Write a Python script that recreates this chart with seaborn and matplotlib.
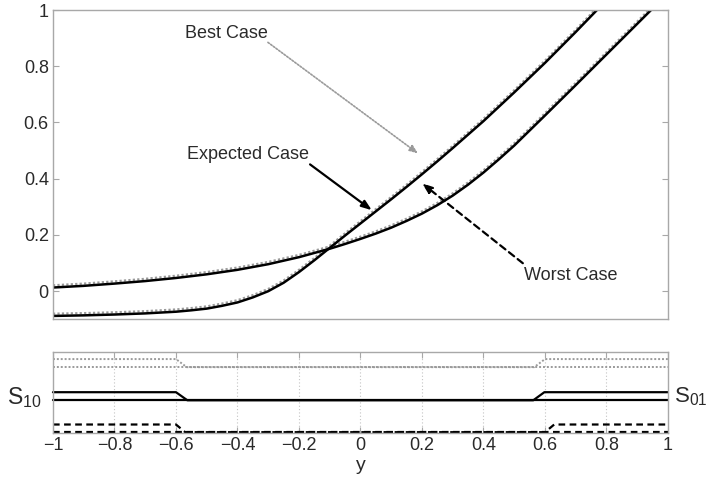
import numpy as np
import pandas as pd
import matplotlib
matplotlib.use("Agg")
import matplotlib.pyplot as plt
import seaborn as sns

# ---------------- data ----------------
x_a = [-1.0, -0.9, -0.8, -0.7, -0.6, -0.55, -0.5, -0.45, -0.4, -0.35, -0.3, -0.25, -0.2, -0.15,
       -0.1, -0.05, 0.0, 0.05, 0.1, 0.15, 0.2, 0.25, 0.3, 0.4, 0.5, 0.6, 0.7, 0.8]
expected_a = [-0.088, -0.086, -0.083, -0.079, -0.073, -0.068, -0.062, -0.052, -0.040, -0.022, 0.000,
              0.030, 0.068, 0.110, 0.154, 0.198, 0.241, 0.284, 0.327, 0.371, 0.416, 0.462, 0.509,
              0.605, 0.707, 0.812, 0.922, 1.035]
best_a = [-0.080, -0.078, -0.075, -0.071, -0.065, -0.060, -0.054, -0.044, -0.032, -0.014, 0.008,
          0.038, 0.076, 0.118, 0.162, 0.206, 0.249, 0.292, 0.335, 0.379, 0.424, 0.470, 0.517,
          0.613, 0.715, 0.820, 0.930, 1.043]

x_b = [-1.0, -0.9, -0.8, -0.7, -0.6, -0.5, -0.4, -0.3, -0.2, -0.1, -0.05, 0.0, 0.05, 0.1, 0.15,
       0.2, 0.25, 0.3, 0.35, 0.4, 0.45, 0.5, 0.6, 0.7, 0.8, 0.9, 1.0]
expected_b = [0.013, 0.019, 0.027, 0.036, 0.047, 0.060, 0.076, 0.096, 0.121, 0.151, 0.168, 0.186,
              0.205, 0.226, 0.250, 0.276, 0.306, 0.340, 0.379, 0.422, 0.469, 0.518, 0.625, 0.733,
              0.842, 0.951, 1.060]
best_b = [0.021, 0.027, 0.035, 0.044, 0.055, 0.068, 0.084, 0.104, 0.129, 0.159, 0.176, 0.194,
          0.213, 0.234, 0.258, 0.284, 0.314, 0.348, 0.387, 0.430, 0.477, 0.526, 0.633, 0.741,
          0.850, 0.959, 1.068]

# switching indicators (bottom panel)
sw_x_best = [-1.0, -0.6, -0.565, 0.565, 0.6, 1.0]
sw_best_upper = [9.1, 9.1, 8.1, 8.1, 9.1, 9.1]
sw_best_lower = [8.1, 8.1, 8.1, 8.1, 8.1, 8.1]
sw_x_exp = [-1.0, -0.6, -0.563, 0.562, 0.598, 1.0]
sw_exp_upper = [5.0, 5.0, 4.0, 4.0, 5.0, 5.0]
sw_exp_lower = [4.0, 4.0, 4.0, 4.0, 4.0, 4.0]
sw_x_worst = [-1.0, -0.6, -0.57, 0.6, 0.63, 1.0]
sw_worst_upper = [1.0, 1.0, 0.05, 0.05, 1.0, 1.0]
sw_worst_lower = [0.05, 0.05, 0.05, 0.05, 0.05, 0.05]

xticks = [-1, -0.8, -0.6, -0.4, -0.2, 0, 0.2, 0.4, 0.6, 0.8, 1]
xticklabels = ["\u22121", "\u22120.8", "\u22120.6", "\u22120.4", "\u22120.2", "0", "0.2", "0.4", "0.6", "0.8", "1"]
yticks = [0, 0.2, 0.4, 0.6, 0.8, 1]
yticklabels = ["0", "0.2", "0.4", "0.6", "0.8", "1"]

# ---------------- style ----------------
sns.set_style("white")
plt.rcParams["font.family"] = ["Liberation Sans", "DejaVu Sans"]
plt.rcParams["mathtext.fontset"] = "custom"
plt.rcParams["mathtext.rm"] = "Liberation Sans"
plt.rcParams["mathtext.it"] = "Liberation Sans"

SPINE = "#a8a8a8"
TXT = "#2a2a2a"
GRAY = "#9a9a9a"
FS = 13

fig = plt.figure(figsize=(7.11, 4.78), dpi=100)
ax1 = fig.add_axes([0.0745, 0.332, 0.865, 0.647])
ax2 = fig.add_axes([0.0745, 0.095, 0.865, 0.169])

dot = (0, (1, 1))

# ---------------- top panel ----------------
for xs, ys in [(x_a, best_a), (x_b, best_b)]:
    sns.lineplot(x=xs, y=ys, ax=ax1, color=GRAY, lw=1.6, linestyle=dot, estimator=None, sort=False)
for xs, ys in [(x_a, expected_a), (x_b, expected_b)]:
    sns.lineplot(x=xs, y=ys, ax=ax1, color="black", lw=1.8, estimator=None, sort=False)

ax1.set_xlim(-1, 1)
ax1.set_ylim(-0.1, 1)
ax1.set_yticks(yticks)
ax1.set_yticklabels(yticklabels)
ax1.set_xticks([])
ax1.tick_params(axis="y", direction="in", length=4, color=SPINE, labelsize=FS,
                labelcolor=TXT, left=True, right=True, pad=3)
for s in ax1.spines.values():
    s.set_color(SPINE)
    s.set_linewidth(1.0)

ax1.text(-0.437, 0.917, "Best Case", fontsize=FS, color=TXT, ha="center", va="center")
ax1.text(-0.366, 0.487, "Expected Case", fontsize=FS, color=TXT, ha="center", va="center")
ax1.text(0.684, 0.057, "Worst Case", fontsize=FS, color=TXT, ha="center", va="center")

ax1.annotate("", xy=(0.187, 0.490), xytext=(-0.301, 0.885),
             arrowprops=dict(arrowstyle="-|>,head_length=0.5,head_width=0.2", color=GRAY,
                             lw=1.2, linestyle=(0, (1, 1)), shrinkA=0, shrinkB=0))
ax1.annotate("", xy=(0.037, 0.288), xytext=(-0.164, 0.451),
             arrowprops=dict(arrowstyle="-|>,head_length=0.6,head_width=0.22", color="black",
                             lw=1.6, shrinkA=0, shrinkB=0))
ax1.annotate("", xy=(0.200, 0.384), xytext=(0.528, 0.0995),
             arrowprops=dict(arrowstyle="-|>,head_length=0.6,head_width=0.22", color="black",
                             lw=1.6, linestyle=(0, (3, 2)), shrinkA=0, shrinkB=0))

# ---------------- bottom panel ----------------
sns.lineplot(x=sw_x_best, y=sw_best_upper, ax=ax2, color=GRAY, lw=1.4, linestyle=dot, estimator=None, sort=False)
sns.lineplot(x=sw_x_best, y=sw_best_lower, ax=ax2, color=GRAY, lw=1.4, linestyle=dot, estimator=None, sort=False)
sns.lineplot(x=sw_x_exp, y=sw_exp_upper, ax=ax2, color="black", lw=1.6, estimator=None, sort=False)
sns.lineplot(x=sw_x_exp, y=sw_exp_lower, ax=ax2, color="black", lw=1.6, estimator=None, sort=False)
sns.lineplot(x=sw_x_worst, y=sw_worst_upper, ax=ax2, color="black", lw=1.6,
             linestyle=(0, (3, 2)), estimator=None, sort=False)
sns.lineplot(x=sw_x_worst, y=sw_worst_lower, ax=ax2, color="black", lw=1.6,
             linestyle=(0, (3, 2)), estimator=None, sort=False)
for ln in ax2.lines:
    ln.set_clip_on(False)

ax2.set_xlim(-1, 1)
ax2.set_ylim(0, 10)
ax2.set_xticks(xticks)
ax2.set_xticklabels(xticklabels)
ax2.set_yticks([])
ax2.tick_params(axis="x", direction="in", length=4, color=SPINE, labelsize=FS,
                labelcolor=TXT, top=True, bottom=True, pad=3)
for t in xticks[1:-1]:
    ax2.axvline(t, color="#c4c4c4", lw=0.8, linestyle=(0, (1, 2)), zorder=0)
for s in ax2.spines.values():
    s.set_color(SPINE)
    s.set_linewidth(1.0)
ax2.set_xlabel("y", fontsize=FS + 1, color=TXT, labelpad=2)

fig.text(0.010, 0.168, r"$\mathrm{S}_{10}$", fontsize=16.5, color=TXT, va="center", ha="left")
fig.text(0.948, 0.170, r"$\mathrm{S}_{01}$", fontsize=16, color=TXT, va="center", ha="left")

fig.savefig("out.png", dpi=100)
